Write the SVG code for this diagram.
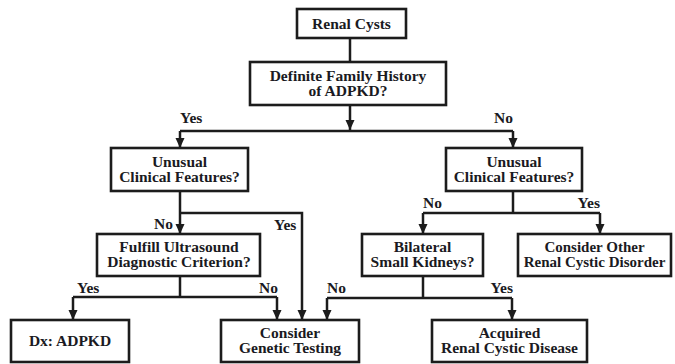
<svg xmlns="http://www.w3.org/2000/svg" width="675" height="364" viewBox="0 0 675 364">
<defs>
<style>
.box{fill:#ffffff;stroke:#1c1c1c;stroke-width:2.6}
.t{font-family:"Liberation Serif","Times New Roman",serif;font-weight:bold;font-size:15.5px;fill:#1a1a22;text-anchor:middle}
.lbl{font-family:"Liberation Serif","Times New Roman",serif;font-weight:bold;font-size:15.5px;fill:#1a1a22}
.c{fill:none;stroke:#1c1c1c;stroke-width:2.5}
.a{marker-end:url(#ah)}
</style>
<marker id="ah" markerUnits="userSpaceOnUse" markerWidth="10" markerHeight="10" refX="10" refY="4.5" orient="auto">
<path d="M0,0 L10,4.5 L0,9 Z" fill="#1c1c1c"/>
</marker>
</defs>
<rect width="675" height="364" fill="#ffffff"/>
<g id="connectors">
<path class="c" d="M350,38 V62"/>
<path class="c a" d="M350,105 V130"/>
<path class="c" d="M180,131 H513"/>
<path class="c a" d="M180,131 V148"/>
<path class="c a" d="M513,131 V148"/>
<path class="c a" d="M180,191 V234"/>
<path class="c a" d="M180,213 H302 V320"/>
<path class="c" d="M180,276 V297"/>
<path class="c" d="M73,297 H277"/>
<path class="c a" d="M73,297 V320"/>
<path class="c a" d="M277,297 V320"/>
<path class="c" d="M513,191 V213"/>
<path class="c" d="M423,213 H600"/>
<path class="c a" d="M423,213 V234"/>
<path class="c a" d="M600,213 V234"/>
<path class="c" d="M423,276 V298"/>
<path class="c" d="M327,298 H512"/>
<path class="c a" d="M327,298 V320"/>
<path class="c a" d="M512,298 V320"/>
</g>
<g id="labels">
<text class="lbl" x="180" y="123">Yes</text>
<text class="lbl" x="513" y="123" text-anchor="end">No</text>
<text class="lbl" x="173" y="229" text-anchor="end">No</text>
<text class="lbl" x="274" y="230">Yes</text>
<text class="lbl" x="423" y="208">No</text>
<text class="lbl" x="600" y="208" text-anchor="end">Yes</text>
<text class="lbl" x="77" y="293">Yes</text>
<text class="lbl" x="278" y="293" text-anchor="end">No</text>
<text class="lbl" x="327" y="293">No</text>
<text class="lbl" x="513" y="293" text-anchor="end">Yes</text>
</g>
<g id="renal-cysts">
<rect class="box" x="297" y="9" width="109" height="29"/>
<text class="t" x="351.5" y="29">Renal Cysts</text>
</g>
<g id="family-history">
<rect class="box" x="250" y="62" width="196" height="43"/>
<text class="t" x="348" y="81">Definite Family History</text>
<text class="t" x="348" y="96">of ADPKD?</text>
</g>
<g id="unusual-left">
<rect class="box" x="111" y="148" width="137" height="43"/>
<text class="t" x="179.5" y="167">Unusual</text>
<text class="t" x="179.5" y="182">Clinical Features?</text>
</g>
<g id="unusual-right">
<rect class="box" x="446" y="148" width="136" height="43"/>
<text class="t" x="514" y="167">Unusual</text>
<text class="t" x="514" y="182">Clinical Features?</text>
</g>
<g id="ultrasound">
<rect class="box" x="97" y="234" width="163" height="42"/>
<text class="t" x="179" y="252">Fulfill Ultrasound</text>
<text class="t" x="179" y="267">Diagnostic Criterion?</text>
</g>
<g id="bilateral">
<rect class="box" x="362" y="234" width="121" height="42"/>
<text class="t" x="422.5" y="252">Bilateral</text>
<text class="t" x="422.5" y="267">Small Kidneys?</text>
</g>
<g id="consider-other">
<rect class="box" x="518" y="234" width="153" height="42"/>
<text class="t" x="594.5" y="252" style="font-size:15px">Consider Other</text>
<text class="t" x="594.5" y="267" style="font-size:15px">Renal Cystic Disorder</text>
</g>
<g id="dx-adpkd">
<rect class="box" x="11" y="320" width="118" height="42"/>
<text class="t" x="70" y="346">Dx: ADPKD</text>
</g>
<g id="genetic-testing">
<rect class="box" x="221" y="320" width="138" height="42"/>
<text class="t" x="290" y="338">Consider</text>
<text class="t" x="290" y="353">Genetic Testing</text>
</g>
<g id="acquired">
<rect class="box" x="432" y="320" width="155" height="42"/>
<text class="t" x="509.5" y="338">Acquired</text>
<text class="t" x="509.5" y="353">Renal Cystic Disease</text>
</g>
</svg>
